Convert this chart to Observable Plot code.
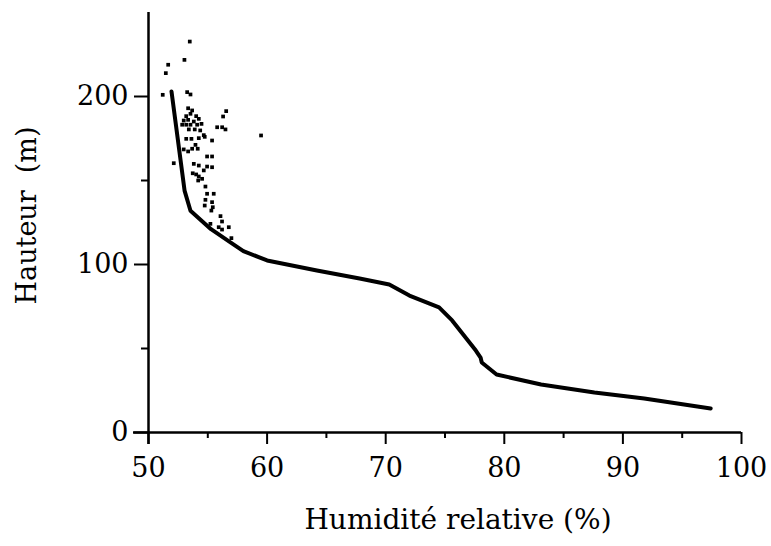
<!DOCTYPE html>
<html>
<head>
<meta charset="utf-8">
<script src="https://cdn.jsdelivr.net/npm/d3@7"></script>
<script src="https://cdn.jsdelivr.net/npm/@observablehq/plot@0.6"></script>
<style>
  html, body { margin: 0; padding: 0; background: #fff; }
</style>
</head>
<body>
<div id="chart"></div>
<script>
// Profil moyen (trait épais)
const lineHumidite = [51.94, 53.04, 53.54, 55.27, 56.94, 58.0, 60.0, 64.2, 67.8, 70.3, 72.0, 74.5, 75.6, 77.6, 78.0, 78.1, 79.35, 83.1, 87.6, 91.8, 97.4];
const lineHauteur  = [203, 144, 132, 121, 113, 108, 102.4, 96.4, 91.7, 88.1, 81.5, 74.5, 66.7, 48.8, 44.6, 41.7, 34.5, 28.6, 23.8, 20.2, 14.3];

// Mesures ponctuelles (points)
const ptHumidite = [
  53.48, 53.03, 51.66, 51.46, 51.2, 53.26, 53.54,
  56.55, 56.29, 55.79, 56.21, 56.49, 59.49,
  53.34, 53.68, 53.54, 53.18, 54.02, 52.97, 53.34, 53.82, 54.24, 52.84, 53.18, 53.54, 54.1, 54.47, 53.4, 53.9, 54.36,
  53.18, 53.62, 54.24, 54.74, 55.36, 54.66, 53.96, 53.68, 53.34, 52.97, 54.15,
  52.13, 53.82, 54.24, 54.94, 55.36, 54.94, 55.36, 53.73, 54.02, 54.24, 54.66, 54.19, 54.52, 54.8, 54.94, 55.5, 54.8, 55.36, 54.74, 55.42, 55.3,
  56.07, 56.2, 55.92, 56.2, 56.77, 55.22, 56.99
];
const ptHauteur = [
  232.7, 221.8, 218.9, 213.9, 201, 202.6, 201.2,
  191.3, 188.1, 181.7, 181.7, 180.4, 176.8,
  193.0, 191.7, 189.7, 188.3, 188.3, 185.7, 186.1, 185.1, 186.7, 183.2, 183.2, 183.2, 183.2, 183.7, 180.4, 180.4, 179.8,
  174.8, 174.8, 175.2, 176, 173.8, 177, 171.2, 168.9, 167.3, 168.5, 168.9,
  160.3, 159.9, 158.9, 164.3, 164.3, 158.3, 157.9, 154.3, 153.6, 152.4, 156, 150, 151, 146.4, 142.1, 142.1, 138.5, 137.1, 135.1, 134.1, 132.1,
  128.8, 125.6, 122.2, 120.8, 122.2, 124.2, 115.7
];

const xMajor = [50, 60, 70, 80, 90, 100];
const xMinor = [55, 65, 75, 85, 95];
const yMajor = [0, 100, 200];
const yMinor = [50, 150];
const xLabel = "Humidité relative (%)";
const yLabel = "Hauteur\u00a0 (m)";

const lineData = lineHumidite.map((h, i) => ({h, z: lineHauteur[i]}));
const ptData = ptHumidite.map((h, i) => ({h, z: ptHauteur[i]}));

const font = "'DejaVu Serif', 'Liberation Serif', serif";

const chart = Plot.plot({
  width: 771,
  height: 546,
  marginLeft: 148,
  marginRight: 30,
  marginTop: 12,
  marginBottom: 114,
  style: {fontFamily: font, fontSize: "27px", color: "#000", background: "#fff"},
  x: {domain: [50, 100]},
  y: {domain: [0, 250]},
  marks: [
    Plot.axisX({ticks: xMajor, tickSize: 12, tickPadding: 13, strokeWidth: 2, label: null, tickFormat: d3.format("d")}),
    Plot.axisX({ticks: xMinor, tickSize: 6, strokeWidth: 2, label: null, text: null}),
    Plot.axisY({ticks: yMajor, tickSize: 14, tickPadding: 6, strokeWidth: 2, label: null, tickFormat: d3.format("d")}),
    Plot.axisY({ticks: yMinor, tickSize: 7, strokeWidth: 2, label: null, text: null}),
    Plot.ruleY([0], {stroke: "#000", strokeWidth: 2.5, insetLeft: -15}),
    Plot.ruleX([50], {stroke: "#000", strokeWidth: 2.5, insetBottom: -12}),
    Plot.line(lineData, {x: "h", y: "z", stroke: "#000", strokeWidth: 4, strokeLinejoin: "round"}),
    Plot.dot(ptData, {x: "h", y: "z", symbol: "square", r: 2.1, fill: "#000", stroke: null}),
    Plot.text([xLabel], {frameAnchor: "bottom", textAnchor: "middle", dx: 13, dy: 96, fontSize: 28, fill: "#000"}),
    Plot.text([yLabel], {frameAnchor: "left", textAnchor: "middle", dx: -121, dy: -7, rotate: -90, fontSize: 27, fill: "#000"})
  ]
});
document.getElementById("chart").appendChild(chart);
</script>
</body>
</html>
